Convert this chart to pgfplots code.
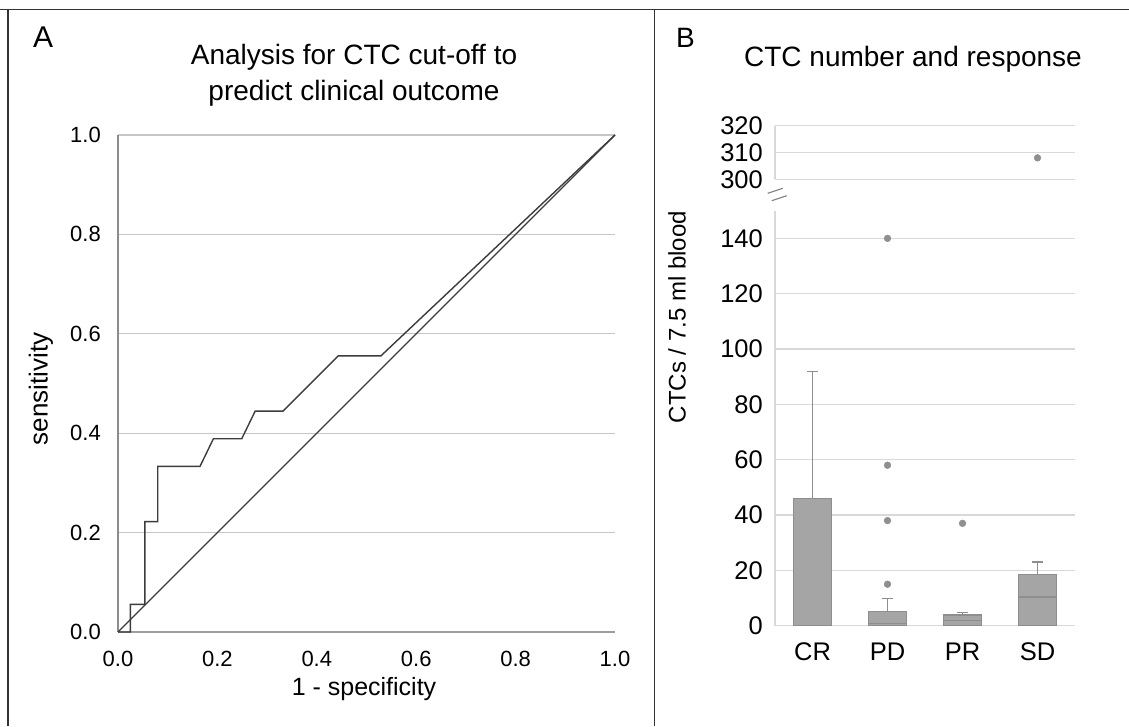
\documentclass[border=0pt]{standalone}
\usepackage{fontspec}
\setmainfont{Liberation Sans}
\usepackage{pgfplots}
\pgfplotsset{compat=1.18}
\usepgfplotslibrary{statistics}
\definecolor{framec}{HTML}{333333}
\definecolor{roc}{HTML}{3C3C3C}
\definecolor{gridA}{HTML}{C6C6C6}
\definecolor{axisA}{HTML}{8C8C8C}
\definecolor{gridB}{HTML}{D9D9D9}
\definecolor{boxfill}{HTML}{A5A5A5}
\definecolor{boxedge}{HTML}{8E8E8E}
\definecolor{dotc}{HTML}{8F8F8F}
\newcommand{\fs}[1]{\fontsize{#1}{#1}\selectfont}

\begin{document}
\begin{tikzpicture}
\useasboundingbox (0pt,0pt) rectangle (1129pt,726pt);
\fill[white] (0pt,0pt) rectangle (1129pt,726pt);
\draw[framec, line width=1.5pt] (0pt,716.7pt) -- (1129pt,716.7pt);
\draw[framec, line width=1.5pt] (8pt,716.7pt) -- (8pt,0pt);
\draw[framec, line width=1.5pt] (654.5pt,716.7pt) -- (654.5pt,0pt);

% ---------------- Panel A ----------------
\node[anchor=base west, inner sep=0pt, font=\fs{30}] at (33pt,678pt) {A};
\node[anchor=base, inner sep=0pt, font=\fs{28}] at (354pt,661pt) {Analysis for CTC cut-off to};
\node[anchor=base, inner sep=0pt, font=\fs{28}] at (354pt,625pt) {predict clinical outcome};
\node[rotate=90, inner sep=0pt, font=\fs{26}] at (41pt,337pt) {sensitivity};
\node[inner sep=0pt, font=\fs{25}] at (364pt,37pt) {1 - specificity};

\begin{axis}[at={(118pt,94pt)}, anchor=south west, scale only axis,
  width=497pt, height=497pt,
  xmin=0, xmax=1, ymin=0, ymax=1,
  xtick={0,0.2,0.4,0.6,0.8,1}, ytick={0,0.2,0.4,0.6,0.8,1},
  major tick length=0pt,
  axis x line*=bottom, axis y line*=left,
  x axis line style={-, color=axisA!85, line width=2pt},
  y axis line style={-, color=axisA, line width=1.2pt},
  ymajorgrids, grid style={gridA, line width=1.3pt},
  /pgf/number format/assume math mode=true,
  /pgf/number format/fixed, /pgf/number format/fixed zerofill,
  /pgf/number format/precision=1,
  ticklabel style={font=\fs{22}, inner sep=0pt},
  yticklabel style={anchor=east, xshift=-17pt},
  xticklabel style={anchor=north, yshift=-19pt},
  clip=false]
\addplot[roc, line width=1.4pt] coordinates {
  (0,0) (0.025,0) (0.025,0.0556) (0.054,0.0556) (0.054,0.2222)
  (0.080,0.2222) (0.080,0.3333) (0.165,0.3333) (0.192,0.3889)
  (0.249,0.3889) (0.276,0.4444) (0.332,0.4444) (0.443,0.5556)
  (0.529,0.5556) (1,1)};
\addplot[roc, line width=1.4pt] coordinates {(0,0) (1,1)};
\end{axis}

% ---------------- Panel B ----------------
\node[anchor=base west, inner sep=0pt, font=\fs{28}] at (676pt,678pt) {B};
\node[anchor=base, inner sep=0pt, font=\fs{28}] at (913pt,659.3pt) {CTC number and response};
\node[rotate=90, inner sep=0pt, font=\fs{24}] at (677pt,409pt) {CTCs / 7.5 ml blood};

\begin{axis}[at={(775pt,100.3pt)}, anchor=south west, scale only axis,
  width=300pt, height=415pt,
  xmin=-0.5, xmax=3.5, ymin=0, ymax=150,
  xtick={0,1,2,3}, xticklabels={CR,PD,PR,SD},
  ytick={0,20,40,60,80,100,120,140},
  major tick length=0pt,
  axis x line*=bottom, axis y line*=left,
  axis line style={-, gridB, line width=1.3pt},
  ymajorgrids, grid style={gridB, line width=1.3pt},
  /pgf/number format/assume math mode=true,
  yticklabel style={font=\fs{25.5}, inner sep=0pt, anchor=east, xshift=-12pt},
  xticklabel style={font=\fs{25.5}, inner sep=0pt, anchor=north, yshift=-17pt},
  boxplot/draw direction=y,
  clip=false]
\addplot[draw=boxedge, fill=boxfill, line width=1.2pt,
  boxplot prepared={draw position=0, lower whisker=0, lower quartile=0,
  median=0, upper quartile=46, upper whisker=92, box extend=0.5, whisker extend=0.14}]
  coordinates {};
\addplot[draw=boxedge, fill=boxfill, line width=1.2pt,
  boxplot prepared={draw position=1, lower whisker=0, lower quartile=0,
  median=0.9, upper quartile=5.2, upper whisker=9.7, box extend=0.5, whisker extend=0.14}]
  coordinates {};
\addplot[draw=boxedge, fill=boxfill, line width=1.2pt,
  boxplot prepared={draw position=2, lower whisker=0, lower quartile=0,
  median=2, upper quartile=3.9, upper whisker=4.7, box extend=0.5, whisker extend=0.14}]
  coordinates {};
\addplot[draw=boxedge, fill=boxfill, line width=1.2pt,
  boxplot prepared={draw position=3, lower whisker=0, lower quartile=0,
  median=10.4, upper quartile=18.4, upper whisker=23, box extend=0.5, whisker extend=0.14}]
  coordinates {};
\addplot[only marks, mark=*, mark size=3.4pt, color=dotc]
  coordinates {(1,15) (1,38) (1,58) (1,140) (2,37)};
\end{axis}

\begin{axis}[at={(775pt,546.7pt)}, anchor=south west, scale only axis,
  width=300pt, height=53.6pt,
  xmin=-0.5, xmax=3.5, ymin=300, ymax=320,
  xtick=\empty, ytick={300,310,320},
  major tick length=0pt,
  axis x line*=bottom, axis y line*=left,
  axis line style={-, gridB, line width=1.3pt},
  ymajorgrids, grid style={gridB, line width=1.3pt},
  /pgf/number format/assume math mode=true,
  yticklabel style={font=\fs{25.5}, inner sep=0pt, anchor=east, xshift=-12pt},
  clip=false]
\addplot[only marks, mark=*, mark size=3.4pt, color=dotc] coordinates {(3,308)};
\end{axis}

\draw[gray, line width=1.1pt] (767.7pt,532.7pt) -- (782.7pt,537.7pt);
\draw[gray, line width=1.1pt] (771.7pt,525.3pt) -- (786.7pt,530.3pt);
\end{tikzpicture}
\end{document}
